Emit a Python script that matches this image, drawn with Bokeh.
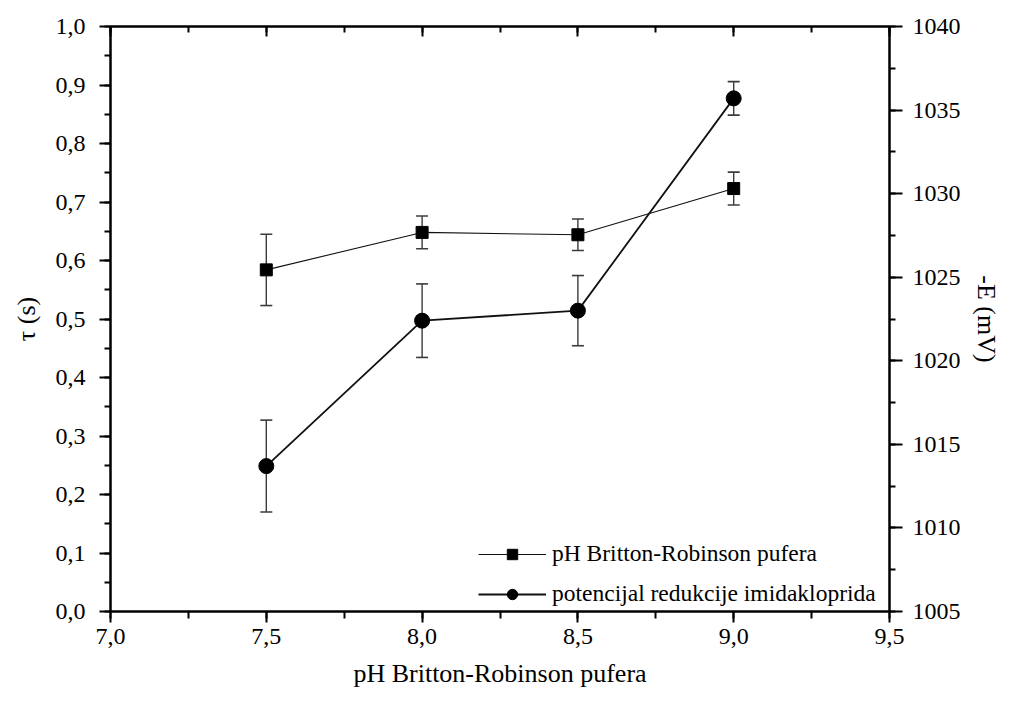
from bokeh.plotting import figure
from bokeh.models import (Range1d, LinearAxis, Legend, LegendItem, CustomJSTickFormatter,
                          SingleIntervalTicker, ColumnDataSource)
from bokeh.embed import file_html
from bokeh.resources import INLINE

ph = [7.5, 8.0, 8.5, 9.0]
tau = [0.584, 0.648, 0.644, 0.723]
tau_err = [0.061, 0.028, 0.027, 0.028]
potential = [1013.7, 1022.4, 1023.0, 1035.7]
potential_err = [2.75, 2.2, 2.1, 1.0]

label_sq = "pH Britton-Robinson pufera"
label_ci = "potencijal redukcije imidakloprida"
x_title = "pH Britton-Robinson pufera"
y_title = "τ (s)"
y2_title = "-E (mV)"

FONT = "Times"

p = figure(width=1003, height=698, output_backend="svg", toolbar_location=None,
           x_range=Range1d(7.0, 9.5), y_range=Range1d(0.0, 1.0),
           min_border_left=110, min_border_right=109, min_border_top=26, min_border_bottom=87,
           background_fill_color="white", border_fill_color="white")
p.extra_y_ranges = {"E": Range1d(1005, 1040)}
p.xgrid.visible = False
p.ygrid.visible = False
p.outline_line_color = "black"
p.outline_line_width = 2

fmt = CustomJSTickFormatter(code="return tick.toFixed(1).replace('.', ',');")

def style_axis(ax, tick_out=11, minor_out=6, tick_in=0, minor_in=0):
    ax.axis_line_color = "black"
    ax.axis_line_width = 2
    ax.major_tick_line_color = "black"
    ax.major_tick_line_width = 2
    ax.minor_tick_line_color = "black"
    ax.minor_tick_line_width = 2
    ax.major_tick_out = tick_out
    ax.major_tick_in = tick_in
    ax.minor_tick_out = minor_out
    ax.minor_tick_in = minor_in
    ax.major_label_text_font = FONT
    ax.major_label_text_font_size = "24px"
    ax.major_label_text_color = "black"
    ax.axis_label_text_font = FONT
    ax.axis_label_text_font_size = "26px"
    ax.axis_label_text_font_style = "normal"
    ax.axis_label_text_color = "black"

# bottom
xa = p.xaxis[0]
xa.ticker = SingleIntervalTicker(interval=0.5, num_minor_ticks=2)
xa.formatter = fmt
xa.axis_label = x_title
style_axis(xa, tick_out=11, minor_out=7)
xa.major_label_standoff = 6
xa.axis_label_standoff = 12

# left
ya = p.yaxis[0]
ya.ticker = SingleIntervalTicker(interval=0.1, num_minor_ticks=2)
ya.formatter = fmt
ya.axis_label = y_title
style_axis(ya, tick_out=11, minor_out=6)
ya.major_label_standoff = 14
ya.axis_label_standoff = 12

# right
ra = LinearAxis(y_range_name="E", axis_label=y2_title,
                ticker=SingleIntervalTicker(interval=5, num_minor_ticks=2))
style_axis(ra, tick_out=13, minor_out=6)
ra.major_label_standoff = 10
ra.axis_label_standoff = 8
p.add_layout(ra, "right")

# top (ticks only, inward)
ta = LinearAxis(ticker=SingleIntervalTicker(interval=0.5, num_minor_ticks=2),
                formatter=CustomJSTickFormatter(code="return '';"))
style_axis(ta, tick_out=0, minor_out=0, tick_in=10, minor_in=6)
ta.major_label_standoff = 0
p.add_layout(ta, "above")

src_sq = ColumnDataSource(dict(x=ph, y=tau,
                               lo=[v - e for v, e in zip(tau, tau_err)],
                               hi=[v + e for v, e in zip(tau, tau_err)]))
src_ci = ColumnDataSource(dict(x=ph, y=potential,
                               lo=[v - e for v, e in zip(potential, potential_err)],
                               hi=[v + e for v, e in zip(potential, potential_err)]))

ERR = "#3c3c3c"
p.segment(x0="x", y0="lo", x1="x", y1="hi", source=src_sq, line_color=ERR, line_width=1.4)
p.scatter(x="x", y="lo", source=src_sq, marker="dash", size=12, line_color=ERR, line_width=1.6)
p.scatter(x="x", y="hi", source=src_sq, marker="dash", size=12, line_color=ERR, line_width=1.6)
p.segment(x0="x", y0="lo", x1="x", y1="hi", source=src_ci, line_color=ERR, line_width=1.4,
          y_range_name="E")
p.scatter(x="x", y="lo", source=src_ci, marker="dash", size=12, line_color=ERR, line_width=1.6,
          y_range_name="E")
p.scatter(x="x", y="hi", source=src_ci, marker="dash", size=12, line_color=ERR, line_width=1.6,
          y_range_name="E")

l1 = p.line(x="x", y="y", source=src_sq, line_color="#111111", line_width=1.1)
m1 = p.scatter(x="x", y="y", source=src_sq, marker="square", size=12,
               fill_color="black", line_color="black")
l2 = p.line(x="x", y="y", source=src_ci, line_color="#111111", line_width=1.8, y_range_name="E")
m2 = p.scatter(x="x", y="y", source=src_ci, marker="circle", size=15,
               fill_color="black", line_color="black", y_range_name="E")

legend = Legend(items=[LegendItem(label=label_sq, renderers=[l1, m1]),
                       LegendItem(label=label_ci, renderers=[l2, m2])],
                location=(368, 4))
legend.border_line_color = None
legend.background_fill_alpha = 0
legend.padding = 0
legend.margin = 0
legend.spacing = 13
legend.glyph_width = 68
legend.glyph_height = 26
legend.label_height = 26
legend.label_standoff = 6
legend.label_text_font = FONT
legend.label_text_font_size = "23.5px"
legend.label_text_color = "black"
p.add_layout(legend)

open("out.html", "w").write(file_html(p, INLINE))
